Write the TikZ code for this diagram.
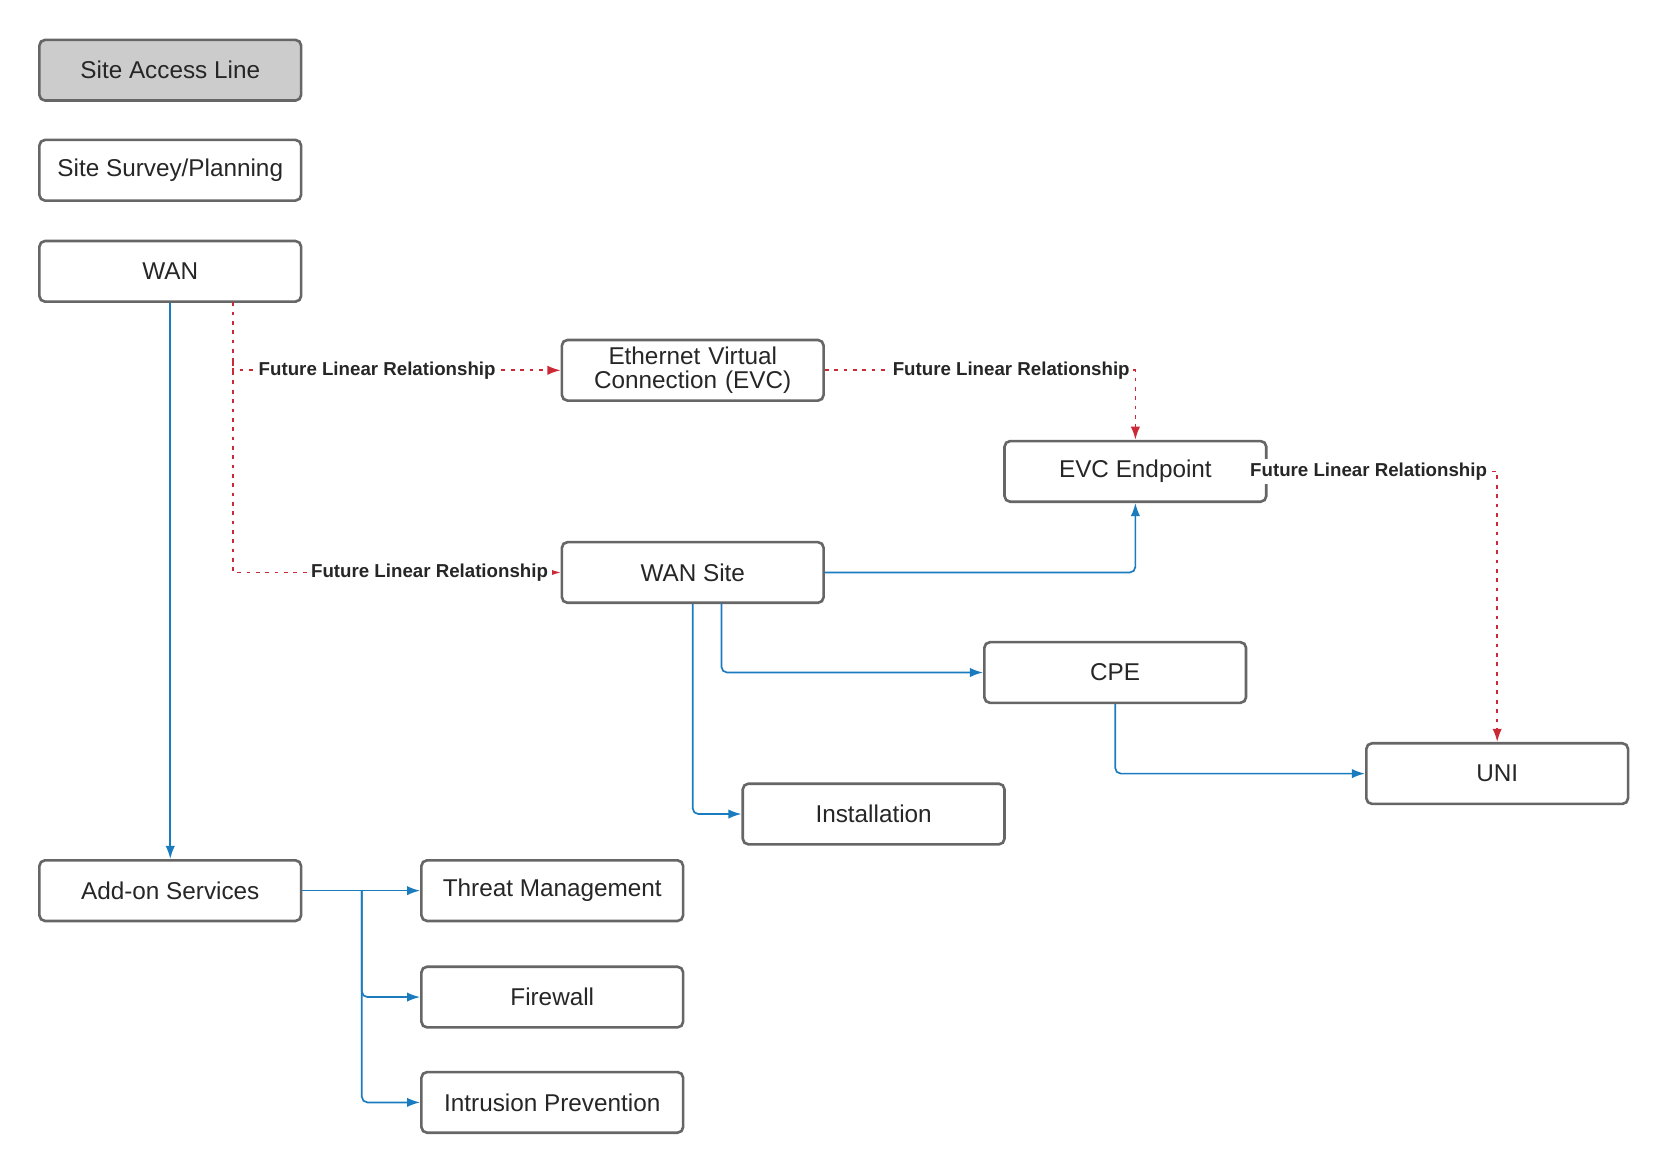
\documentclass[tikz,border=0pt]{standalone}
\usepackage{fontspec}
\setmainfont{Liberation Sans}
\usetikzlibrary{arrows.meta}
\definecolor{boxgray}{HTML}{666666}
\definecolor{linkblue}{HTML}{1A7BBF}
\definecolor{futurered}{HTML}{CC2936}

\begin{document}
\begin{tikzpicture}[
            x=0.02cm, y=-0.02cm,
            box/.style={rectangle, draw=boxgray, fill=white, line width=1.4pt,
                        minimum width=4.92cm, minimum height=1.14cm,
                        text centered, rounded corners=3pt, font=\fontsize{13}{15}\selectfont,
                        text=black!85},
            link/.style={-{Latex[length=7pt,width=5pt]}, linkblue, line width=0.9pt, rounded corners=3pt},
            future/.style={-{Latex[length=7pt,width=5pt]}, futurered, line width=0.9pt,
                        dash pattern=on 2pt off 3pt},
            tag/.style={fill=white, inner sep=2pt, font=\bfseries\fontsize{10}{12}\selectfont, text=black!85}
        ]
            \useasboundingbox (0,0) rectangle (1560,1097);
            \node[box, fill=black!20] (access) at (160,66) {Site Access Line};
            \node[box] (survey) at (160,160) {Site Survey/Planning};
            \node[box] (wan) at (160,255) {WAN};
            \node[box, align=center, text width=4.6cm] (evc) at (651,348) {Ethernet Virtual\\[-2pt]Connection (EVC)};
            \node[box] (endpoint) at (1067,443) {EVC Endpoint};
            \node[box] (wansite) at (651,538) {WAN Site};
            \node[box] (cpe) at (1048,632) {CPE};
            \node[box] (uni) at (1407,727) {UNI};
            \node[box] (install) at (821,765) {Installation};
            \node[box] (addon) at (160,837) {Add-on Services};
            \node[box] (threat) at (519,837) {Threat Management};
            \node[box] (firewall) at (519,937) {Firewall};
            \node[box] (ips) at (519,1036) {Intrusion Prevention};

            % future relationships
            \draw[future] (219,284) |- (evc.west) node[tag, pos=0.72] {Future Linear Relationship};
            \draw[future] (219,340) |- (wansite.west) node[tag, pos=0.8] {Future Linear Relationship};
            \draw[future] (evc.east) -| (endpoint.north) node[tag, pos=0.3] {Future Linear Relationship};
            \draw[future] (endpoint.east) -| (uni.north) node[tag, pos=0.22] {Future Linear Relationship};

            % existing links
            \draw[link] (wan) -- (addon);
            \draw[link] (wansite.east) -| (endpoint.south);
            \draw[link] (678,567) |- (cpe.west);
            \draw[link] (wansite.south) |- (install.west);
            \draw[link] (cpe.south) |- (uni.west);
            \draw[link] (addon.east) -- (threat.west);
            \draw[link] (340,837) |- (firewall.west);
            \draw[link] (340,837) |- (ips.west);
        \end{tikzpicture}
\end{document}
